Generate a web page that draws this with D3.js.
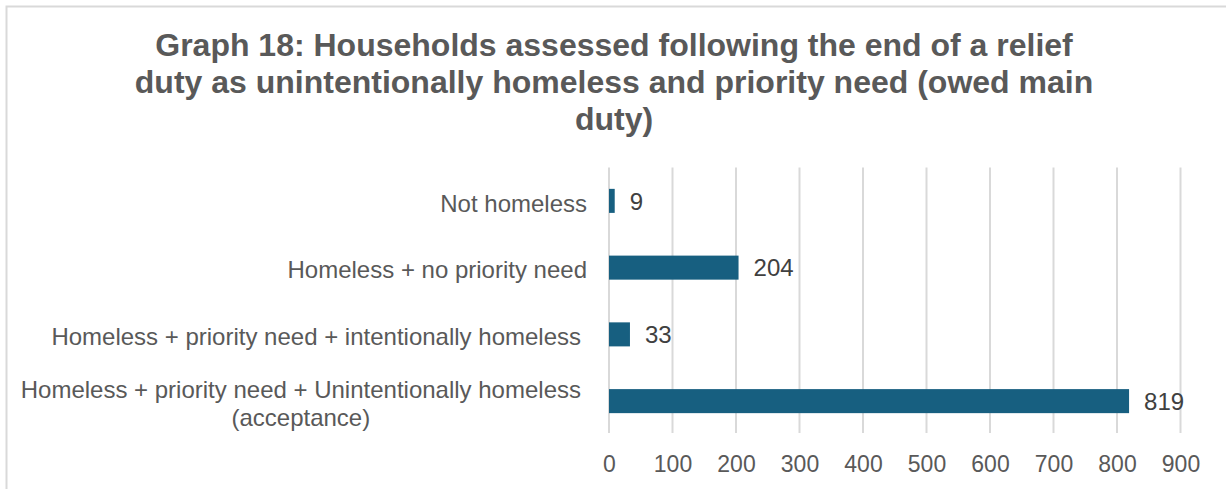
<!DOCTYPE html>
<html>
<head>
<meta charset="utf-8">
<script src="https://cdn.jsdelivr.net/npm/d3@7"></script>
<style>
  html, body { margin: 0; padding: 0; background: #ffffff; }
  svg { display: block; font-family: "Liberation Sans", Arial, sans-serif; }
</style>
</head>
<body>
<svg id="chart" width="1226" height="489"></svg>
<script>
// Chart content
const titleLines = [
  "Graph 18: Households assessed following the end of a relief",
  "duty as unintentionally homeless and priority need (owed main",
  "duty)"
];
const categories = [
  "Not homeless",
  "Homeless + no priority need",
  "Homeless + priority need + intentionally homeless",
  "Homeless + priority need + Unintentionally homeless (acceptance)"
];
// Wrapped display lines for each category label
const categoryLines = [
  ["Not homeless"],
  ["Homeless + no priority need"],
  ["Homeless + priority need + intentionally homeless"],
  ["Homeless + priority need + Unintentionally homeless", "(acceptance)"]
];
const values = [9, 204, 33, 819];
const xTicks = [0, 100, 200, 300, 400, 500, 600, 700, 800, 900];

const svg = d3.select("#chart");
const W = 1226, H = 489;

// Chart-area frame (only top and left edges fall inside the view)
svg.append("rect")
  .attr("x", 6.5).attr("y", 6.5)
  .attr("width", W + 20).attr("height", H + 20)
  .attr("fill", "#ffffff")
  .attr("stroke", "#d9d9d9")
  .attr("stroke-width", 2);

// Title
const title = svg.append("text")
  .attr("text-anchor", "middle")
  .attr("fill", "#595959")
  .attr("font-weight", "bold")
  .attr("font-size", 32);
titleLines.forEach((t, i) => {
  title.append("tspan")
    .attr("x", 614)
    .attr("y", 56 + i * 37)
    .text(t);
});

// Plot area
const plot = { left: 609, right: 1180.5, top: 167.5, bottom: 434.5 };

const x = d3.scaleLinear()
  .domain([0, 900])
  .range([plot.left, plot.right]);

const y = d3.scaleBand()
  .domain(categories)
  .range([plot.top, plot.bottom])
  .paddingInner(0.64)
  .paddingOuter(0.32);

// Vertical gridlines
svg.append("g")
  .selectAll("line")
  .data(xTicks)
  .join("line")
  .attr("x1", d => x(d)).attr("x2", d => x(d))
  .attr("y1", plot.top).attr("y2", plot.bottom - 1.5)
  .attr("stroke", "#d9d9d9")
  .attr("stroke-width", 2);

// X axis tick labels
const xAxis = d3.axisBottom(x)
  .tickValues(xTicks)
  .tickSize(0)
  .tickPadding(0)
  .tickFormat(d3.format("d"));

const gx = svg.append("g")
  .attr("transform", `translate(0,${plot.bottom})`)
  .call(xAxis);
gx.select(".domain").remove();
gx.selectAll("text")
  .attr("font-family", "'Liberation Sans', Arial, sans-serif")
  .attr("font-size", 23)
  .attr("fill", "#595959")
  .attr("dy", null)
  .attr("y", 37);

// Bars
svg.append("g")
  .selectAll("rect")
  .data(values)
  .join("rect")
  .attr("x", x(0))
  .attr("y", (d, i) => y(categories[i]))
  .attr("width", d => x(d) - x(0))
  .attr("height", y.bandwidth())
  .attr("fill", "#175f80");

// Value labels
svg.append("g")
  .selectAll("text")
  .data(values)
  .join("text")
  .attr("x", d => x(d) + 15)
  .attr("y", (d, i) => y(categories[i]) + y.bandwidth() / 2)
  .attr("dy", "0.36em")
  .attr("font-size", 24)
  .attr("fill", "#404040")
  .text(d => d);

// Category labels (multi-line labels are centred within their block;
// long labels sit slightly further from the axis)
const labelRight = plot.left - 22;
const lineH = 28;
const catG = svg.append("g")
  .attr("font-size", 24)
  .attr("fill", "#595959");

categoryLines.forEach((lines, i) => {
  const cy = y(categories[i]) + y.bandwidth() / 2 + 2;
  const t = catG.append("text").attr("text-anchor", "middle");
  const spans = lines.map((ln, j) =>
    t.append("tspan")
      .attr("y", cy + (j - (lines.length - 1) / 2) * lineH)
      .attr("dy", "0.36em")
      .text(ln));
  const blockW = d3.max(spans, s => s.node().getComputedTextLength());
  const right = blockW > 500 ? labelRight - 6 : labelRight;
  spans.forEach(s => s.attr("x", right - blockW / 2));
});
</script>
</body>
</html>
